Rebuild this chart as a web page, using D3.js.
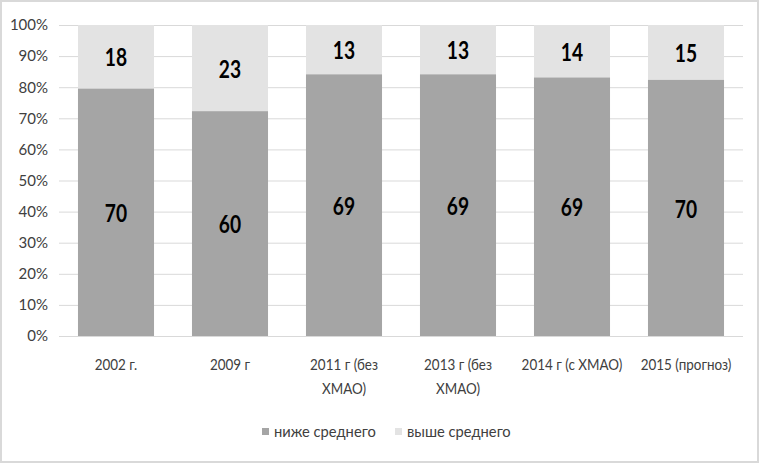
<!DOCTYPE html>
<html><head><meta charset="utf-8">
<script src="https://cdn.jsdelivr.net/npm/d3@7"></script>
<style>
body{margin:0;background:#fff;}
svg{display:block;}
text{font-family:Lato,"DejaVu Sans Condensed",sans-serif;}
</style></head><body>
<svg id="c" width="762" height="466"></svg>
<script>
const categories = [["2002 г."],["2009 г"],["2011 г (без","ХМАО)"],["2013 г (без","ХМАО)"],["2014 г (с ХМАО)"],["2015 (прогноз)"]];
const below = [70, 60, 69, 69, 69, 70];
const above = [18, 23, 13, 13, 14, 15];
const seriesNames = ["ниже среднего", "выше среднего"];
const yTicks = [0,10,20,30,40,50,60,70,80,90,100];

const svg = d3.select("#c");
const W = 762, H = 466;
const FONT = 'Lato,"DejaVu Sans Condensed",sans-serif';
svg.append("rect").attr("x",1).attr("y",1).attr("width",W-5).attr("height",H-5)
  .attr("fill","#fff").attr("stroke","#d9d9d9").attr("stroke-width",2);

const m = {l:59, r:19, t:25, b:130};
const x = d3.scaleBand().domain(d3.range(categories.length)).range([m.l, W-m.r]).paddingInner(0.333).paddingOuter(0.1665);
const y = d3.scaleLinear().domain([0,100]).range([H-m.b, m.t]);

function narrow(sel, k){
  sel.attr("transform", function(){
    const xx = +this.getAttribute("x");
    return `translate(${xx},0) scale(${k},1) translate(${-xx},0)`;
  });
}

svg.append("g").selectAll("line").data(yTicks).join("line")
  .attr("x1", m.l).attr("x2", W-m.r)
  .attr("y1", d=>y(d)+0.5).attr("y2", d=>y(d)+0.5)
  .attr("stroke","#d9d9d9").attr("stroke-width",1);

const yAxis = d3.axisLeft(y).tickValues(yTicks).tickFormat(d=>d+"%").tickSize(0).tickPadding(9);
const ga = svg.append("g").attr("transform",`translate(${m.l-2},0)`).call(yAxis);
ga.select(".domain").remove();
ga.selectAll("text").attr("font-size",15).attr("fill","#404040").style("font-family",FONT);

const data = below.map((b,i)=>({i, b, a:above[i], pb:b/(b+above[i])*100}));

const colBelow = "#a5a5a5", colAbove = "#e3e3e3";
svg.append("g").selectAll("rect").data(data).join("rect")
  .attr("x", d=>x(d.i)).attr("width", x.bandwidth())
  .attr("y", d=>y(100)).attr("height", d=>y(d.pb)-y(100))
  .attr("fill", colAbove);
svg.append("g").selectAll("rect").data(data).join("rect")
  .attr("x", d=>x(d.i)).attr("width", x.bandwidth())
  .attr("y", d=>y(d.pb)).attr("height", d=>y(0)-y(d.pb))
  .attr("fill", colBelow);

function valLabels(acc, ypos){
  const t = svg.append("g").selectAll("text").data(data).join("text")
    .attr("x", d=>x(d.i)+x.bandwidth()/2).attr("y", ypos)
    .attr("dy","0.36em").attr("text-anchor","middle")
    .attr("font-size",24).attr("font-weight","bold").attr("fill","#000")
    .text(acc);
  narrow(t, 0.8);
}
valLabels(d=>d.b, d=>y(d.pb/2)+1);
valLabels(d=>d.a, d=>y((d.pb+100)/2)+1);

const cg = svg.append("g").selectAll("text").data(categories).join("text")
  .attr("x", (d,i)=>x(i)+x.bandwidth()/2).attr("y", 370)
  .attr("text-anchor","middle").attr("font-size",16).attr("fill","#404040");
cg.selectAll("tspan").data(d=>d).join("tspan")
  .attr("x", function(){return this.parentNode.getAttribute("x");})
  .attr("dy",(d,j)=>j===0?0:24).text(d=>d);
narrow(cg, 0.84);

const leg = [{n:seriesNames[0],c:colBelow,x:262},{n:seriesNames[1],c:colAbove,x:395}];
const lg = svg.append("g");
leg.forEach(l=>{
  lg.append("rect").attr("x",l.x).attr("y",428).attr("width",7).attr("height",7).attr("fill",l.c);
  const t = lg.append("text").attr("x",l.x+12).attr("y",437).attr("font-size",16).attr("fill","#404040").text(l.n);
  narrow(t, 0.92);
});
</script>
</body></html>
